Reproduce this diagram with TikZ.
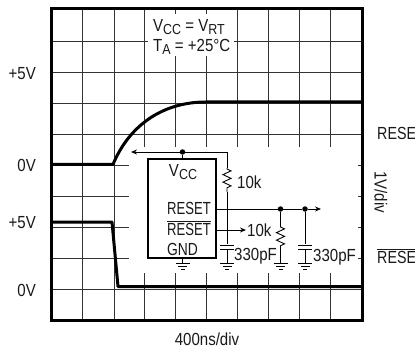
\documentclass[tikz,border=0pt]{standalone}
\usepackage{fontspec}
\setmainfont[FakeStretch=0.86]{Liberation Sans}
\usetikzlibrary{arrows.meta,decorations.pathmorphing}
\newcommand{\subtxt}[1]{\raisebox{-3pt}{\fontsize{14.5}{16}\selectfont #1}}
\tikzset{
  grid line/.style={line width=0.9pt,black!80},
  frame line/.style={line width=3pt,black},
  trace/.style={line width=3pt,black,line join=round},
  wire/.style={line width=0.9pt,black},
  lbl/.style={inner sep=0pt,font=\fontsize{17.5}{19}\selectfont,text=black!90},
  narrow/.style={xscale=0.87,transform shape},
  dotnode/.style={circle,fill=black,inner sep=0pt,minimum size=5.5pt},
  res/.style={wire,decorate,decoration={zigzag,segment length=7.5pt,amplitude=4pt,pre length=1pt,post length=1pt}},
  tip/.style={-{Stealth[length=6pt,width=5pt]}},
  icbox/.style={draw=black,line width=1.6pt,fill=white,minimum width=68pt,minimum height=99pt,inner sep=0pt},
  gndl/.style={wire}
}
\newcommand{\gndsym}[1]{%
  \draw[gndl] ([xshift=-7pt]#1) -- ([xshift=7pt]#1);
  \draw[gndl] ([xshift=-4.5pt,yshift=-3pt]#1) -- ([xshift=4.5pt,yshift=-3pt]#1);
  \draw[gndl] ([xshift=-2pt,yshift=-6pt]#1) -- ([xshift=2pt,yshift=-6pt]#1);
}
\begin{document}
\begin{tikzpicture}[x=1pt,y=-1pt]
\useasboundingbox (0,0) rectangle (415,350);
\clip (0,0) rectangle (415,350);
% grid
\foreach \x in {82.5,114,144.5,175.5,206.5,237,268,299,330}
  \draw[grid line] (\x,9) -- (\x,320);
\foreach \y in {41,72,103,134,165,196,227,258,289}
  \draw[grid line] (51,\y) -- (362,\y);
% white panels
\fill[white] (129,147) rectangle (358,273);
\fill[white] (148,14) rectangle (234,56);
% traces
\draw[trace] (51,164.5) -- (113,164.5) .. controls (128,128) and (160,102) .. (206,102) -- (362,102);
\draw[trace] (51,222) -- (112,222) -- (118,286.5) -- (362,286.5);
\draw[frame line] (51,9) rectangle (362,320);
% top text
\node[lbl,anchor=west] (cond1) at (153,27) {V\subtxt{CC} = V\subtxt{RT}};
\node[lbl,anchor=west] (cond2) at (153,47) {T\subtxt{A} = +25°C};
% axis labels
\node[lbl,anchor=east] (p5a) at (36,74) {+5V};
\node[lbl,anchor=east] (z1) at (36,165) {0V};
\node[lbl,anchor=east] (p5b) at (36,223) {+5V};
\node[lbl,anchor=east] (z2) at (36,290) {0V};
\node[lbl] (xlab) at (207,339) {400ns/div};
\node[lbl,anchor=west,xscale=0.95,transform shape] (r1) at (377,133.5) {RESET};
\node[lbl,anchor=west,xscale=0.95,transform shape] (r2) at (377,256) {$\overline{\mbox{RESET}}$};
\node[lbl,rotate=-90] (ydiv) at (381,192) {1V/div};
% circuit
\node[icbox] (ic) at (182,208.5) {};
\node[lbl] (vcc) at (183,172) {V\subtxt{CC}};
\node[lbl,anchor=east,narrow] (rst) at (211,208) {RESET};
\node[lbl,anchor=east,narrow] (rstb) at (211,228) {$\overline{\mbox{RESET}}$};
\node[lbl,anchor=west,xscale=0.92,transform shape] (gnd) at (167,249) {GND};
\node[dotnode] (d1) at (182.5,152) {};
\coordinate (in) at (131,152);
\coordinate (corner) at (227,152);
\coordinate (r1t) at (227,168);
\coordinate (r1b) at (227,192);
\node[inner sep=0pt] (c1t) at (227,245) {};
\node[inner sep=0pt] (c1b) at (227,249) {};
\coordinate (g1) at (227,263);
\coordinate (g0) at (182.5,263);
\node[dotnode] (d2) at (280.5,209) {};
\node[dotnode] (d3) at (305,209) {};
\coordinate (rout) at (321,209);
\coordinate (r2t) at (280.5,226);
\coordinate (r2b) at (280.5,249);
\coordinate (g2) at (280.5,263);
\node[inner sep=0pt] (c2t) at (305,245) {};
\node[inner sep=0pt] (c2b) at (305,249) {};
\coordinate (g3) at (305,263);
\coordinate (bout) at (246,230);
\draw[wire,tip] (corner) -- (in);
\draw[wire] (d1) -- (182.5,159);
\draw[wire] (corner) -- (r1t);
\draw[res] (r1t) -- (r1b);
\draw[wire] (r1b) -- (c1t);
\draw[wire] (c1b) -- (g1);
\draw[wire] (c1t.center) ++(-7,0) -- ++(14,0);
\draw[wire] (c1b.center) ++(-7,0) -- ++(14,0);
\draw[wire] (216,209) -- (d2) -- (d3);
\draw[wire,tip] (d3) -- (rout);
\draw[wire,tip] (216,230) -- (bout);
\draw[wire] (d2) -- (r2t);
\draw[res] (r2t) -- (r2b);
\draw[wire] (r2b) -- (g2);
\draw[wire] (d3) -- (c2t);
\draw[wire] (c2b) -- (g3);
\draw[wire] (c2t.center) ++(-7,0) -- ++(14,0);
\draw[wire] (c2b.center) ++(-7,0) -- ++(14,0);
\draw[wire] (182.5,258) -- (g0);
\gndsym{g0}\gndsym{g1}\gndsym{g2}\gndsym{g3}
\node[lbl,anchor=west] (k1) at (237,182) {10k};
\node[lbl,anchor=west] (k2) at (247,230) {10k};
\node[lbl,anchor=west] (pf1) at (234,256) {330pF};
\node[lbl,anchor=west] (pf2) at (313,257) {330pF};
\end{tikzpicture}
\end{document}
